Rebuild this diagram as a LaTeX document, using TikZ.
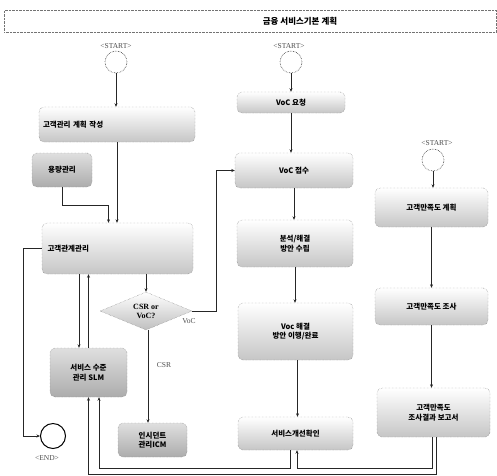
\documentclass[tikz,border=0pt]{standalone}
\usepackage{fontspec}
\setmainfont{Liberation Serif}
\newfontfamily\kr{Noto Sans CJK KR}
\usetikzlibrary{shapes.geometric,arrows.meta}
\begin{document}
\begin{tikzpicture}[x=1pt,y=-1pt,
  box/.style={rectangle,rounded corners=5pt,draw=black!55,densely dotted,top color=white,bottom color=gray!45,
     font=\kr\bfseries\fontsize{7.5}{9.5}\selectfont,align=center,inner sep=1pt},
  darkbox/.style={box,top color=gray!25,bottom color=gray!65},
  startc/.style={circle,draw=black!80,densely dotted,line width=0.6pt,minimum size=22pt,inner sep=0pt},
  lbl/.style={font=\fontsize{7.5}{8.5}\selectfont,text=black!70},
  conn/.style={draw=black!85,line width=0.6pt,-{Stealth[length=3.5pt,width=3pt]}},
  line/.style={draw=black!85,line width=0.6pt}
]
\useasboundingbox (0,0) rectangle (497,475);
% title
\node[draw=black!55,densely dotted,rectangle,minimum width=492pt,minimum height=22pt,anchor=north west] (title) at (4,10) {};
\node[font=\kr\bfseries\fontsize{8.5}{10}\selectfont] (ttext) at (300,21) {금융 서비스기본 계획};

% left column
\node[lbl] (s1l) at (116,46) {<START>};
\node[startc] (s1) at (116,62) {};
\node[box,minimum width=156pt,minimum height=35pt,text width=148pt,align=left] (plan) at (117,124.5) {고객관리 계획 작성};
\node[darkbox,minimum width=60pt,minimum height=34pt] (cap) at (62,170) {용량관리};
\node[box,minimum width=151pt,minimum height=51pt,text width=140pt,align=left] (crm) at (117.5,248.5) {고객관계관리};
\node[diamond,draw=black!55,densely dotted,top color=white,bottom color=gray!50,minimum width=92pt,minimum height=38pt,
  aspect=2.4,inner sep=0pt,font=\fontsize{8}{9}\selectfont\bfseries,align=center] (dec) at (146,311) {CSR or\\VoC?};
\node[darkbox,minimum width=77pt,minimum height=49pt] (slm) at (88.5,372.5) {서비스 수준\\관리 SLM};
\node[darkbox,minimum width=69pt,minimum height=34pt] (icm) at (152.5,440) {인시던트\\관리ICM};
\node[circle,draw=black,line width=1pt,minimum size=25pt,inner sep=0pt] (end) at (53,436) {};
\node[lbl] (endl) at (47,458) {<END>};

% middle column
\node[lbl] (s2l) at (289,46) {<START>};
\node[startc] (s2) at (291,62) {};
\node[box,minimum width=108pt,minimum height=21pt] (voc1) at (291,102.5) {VoC 요청};
\node[box,minimum width=118pt,minimum height=35pt] (voc2) at (294,170.5) {VoC 접수};
\node[box,minimum width=116pt,minimum height=47pt] (ana) at (295,243.5) {분석/해결\\방안 수립};
\node[box,minimum width=115pt,minimum height=57pt] (exe) at (295.5,331.5) {Voc 해결\\방안 이행/완료};
\node[box,minimum width=115pt,minimum height=33pt] (svc) at (295.5,433.5) {서비스개선확인};

% right column
\node[lbl] (s3l) at (437,143) {<START>};
\node[startc] (s3) at (433,160) {};
\node[box,minimum width=113pt,minimum height=39pt] (sat1) at (431.5,207.5) {고객만족도 계획};
\node[box,minimum width=113pt,minimum height=37pt] (sat2) at (431.5,306.5) {고객만족도 조사};
\node[box,minimum width=113pt,minimum height=49pt] (sat3) at (433.5,412.5) {고객만족도\\조사결과 보고서};

% connectors
\draw[conn] (s1) -- (s1 |- plan.north);
\draw[conn] (plan.south) -- (plan.south |- crm.north);
\draw[conn] (cap.south) -- ++(0,18) -| ([xshift=-9pt]crm.north);
\draw[conn] (crm.west) -- ++(-19,0) |- (end.west);
\draw[conn] (crm.south -| dec.north) -- (dec.north);
\draw[conn] ([xshift=-9.5pt]slm.north |- crm.south) -- ([xshift=-9.5pt]slm.north);
\draw[conn] (slm.north) -- (slm.north |- crm.south);
\draw[conn] (dec.east) -- ++(24,0) |- (voc2.west);
\node[lbl] (vocl) at (189,321) {VoC};
\draw[conn] ([xshift=2pt]dec.south) -- ([xshift=2pt]dec.south |- icm.north);
\node[lbl] (csrl) at (164,365) {CSR};

\draw[conn] (s2) -- (s2 |- voc1.north);
\draw[conn] (voc1.south) -- (voc1.south |- voc2.north);
\draw[conn] (voc2.south) -- (voc2.south |- ana.north);
\draw[conn] (ana.south) -- (ana.south |- exe.north);
\draw[conn] ([xshift=2pt]exe.south) -- ([xshift=2pt]exe.south |- svc.north);

\draw[conn] (s3) -- (s3 |- sat1.north);
\draw[conn] (sat1.south) -- (sat1.south |- sat2.north);
\draw[conn] (sat2.south) -- (sat2.south |- sat3.north);

\coordinate (b1) at (0,468);
\coordinate (b2) at (0,474);
\draw[conn] ([xshift=-5.5pt]svc.south) -- ([xshift=-5.5pt]svc.south |- b1) -| ([xshift=10.5pt]slm.south);
\draw[conn] ([xshift=-1.5pt]sat3.south) -- ([xshift=-1.5pt]sat3.south |- b1) -| ([xshift=1.5pt]svc.south);
\draw[conn] ([xshift=2.5pt]sat3.south) -- ([xshift=2.5pt]sat3.south |- b2) -| (slm.south);
\end{tikzpicture}
\end{document}
